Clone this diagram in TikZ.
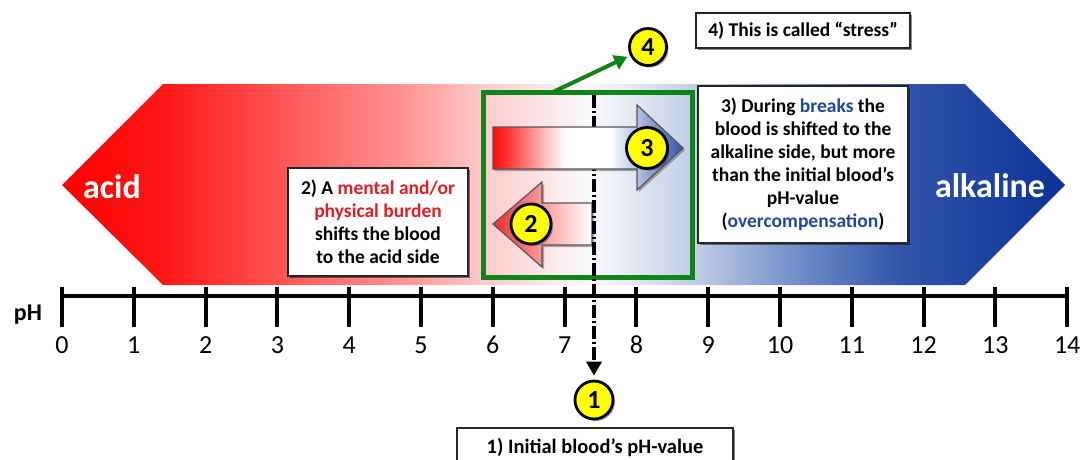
\documentclass[tikz,border=0pt]{standalone}
\usepackage{fontspec}
\setmainfont{Carlito}
\usetikzlibrary{arrows.meta,shadows,calc}

\definecolor{bR0}{RGB}{255,0,0}
\definecolor{bR1}{RGB}{255,22,22}
\definecolor{bR2}{RGB}{255,95,95}
\definecolor{bR3}{RGB}{255,145,145}
\definecolor{bR4}{RGB}{253,200,200}
\definecolor{bW}{RGB}{250,250,252}
\definecolor{bB1}{RGB}{190,202,228}
\definecolor{bB2}{RGB}{110,140,200}
\definecolor{bB3}{RGB}{50,85,170}
\definecolor{bB4}{RGB}{12,50,150}
\definecolor{aR}{RGB}{255,10,10}
\definecolor{aR1}{RGB}{255,60,60}
\definecolor{aR2}{RGB}{255,190,190}
\definecolor{aB1}{RGB}{170,185,222}
\definecolor{aB2}{RGB}{45,85,175}
\definecolor{cR}{RGB}{238,45,45}
\definecolor{cR1}{RGB}{250,150,150}
\definecolor{txtred}{RGB}{228,28,36}
\definecolor{txtblue}{RGB}{31,73,155}
\definecolor{grn}{RGB}{16,132,24}
\definecolor{circyel}{RGB}{255,255,0}

\pgfdeclarehorizontalshading{bandshade}{100bp}{color(0bp)=(bR0); color(25bp)=(bR0); color(29.9bp)=(bR1); color(36.9bp)=(bR2); color(41.85bp)=(bR3); color(45.84bp)=(bR4); color(51.3bp)=(bW); color(56.8bp)=(bB1); color(61.8bp)=(bB2); color(66.8bp)=(bB3); color(75bp)=(bB4); color(100bp)=(bB4)}
\pgfdeclarehorizontalshading{arrowthree}{100bp}{color(0bp)=(aR); color(25bp)=(aR); color(29.5bp)=(aR1); color(38.7bp)=(aR2); color(44bp)=(white); color(55.8bp)=(white); color(63.7bp)=(aB1); color(75bp)=(aB2); color(100bp)=(aB2)}
\pgfdeclarehorizontalshading{arrowtwo}{100bp}{color(0bp)=(cR); color(25bp)=(cR); color(48.7bp)=(cR1); color(75bp)=(white); color(100bp)=(white)}

\tikzset{
  txtbox/.style={draw=black!85, line width=1.3pt, fill=white, align=center,
    font=\fontsize{19.5}{23}\selectfont\bfseries, inner sep=0pt,
    drop shadow={shadow xshift=2pt, shadow yshift=-2pt, opacity=0.45, fill=black}},
  numcirc/.style={circle, draw=black, line width=2.8pt, fill=circyel, inner sep=0pt,
    font=\fontsize{26}{26}\selectfont\bfseries,
    drop shadow={shadow xshift=2pt, shadow yshift=-2pt, opacity=0.35, fill=black}},
  sidelabel/.style={font=\fontsize{34}{34}\selectfont\bfseries, text=white, inner sep=0pt},
  ticklabel/.style={font=\fontsize{26}{26}\selectfont, inner sep=0pt},
  blockarrow/.style={draw={rgb,255:red,85;green,85;blue,95}, line width=1.2pt},
}

\begin{document}
\begin{tikzpicture}[x=1pt,y=-1pt]
\useasboundingbox (0,0) rectangle (1082,459);

% band
\shade[shading=bandshade] (62,185) -- (163,84) -- (965,84) -- (1065,185) -- (965,285) -- (163,285) -- cycle;
\node[sidelabel] (acid) at (112,186.5) {acid};
\node[sidelabel] (alk) at (990,185.5) {alkaline};

% axis
\draw[line width=4pt] (62,296) -- (1067,296);
\foreach \i in {0,...,14} {
  \draw[line width=4pt] ({62+71.8*\i},287) -- ({62+71.8*\i},327);
  \node[ticklabel] (l\i) at ({62+71.8*\i},345) {\i};
}
\node[font=\fontsize{24}{24}\selectfont\bfseries, inner sep=0pt] (ph) at (28,315) {pH};

% green box
\node[draw=grn, line width=5pt, minimum width=209pt, minimum height=185pt, inner sep=0pt] (gbox) at (587.5,184.5) {};

% arrow 2
\shade[shading=arrowtwo, drop shadow={shadow xshift=2pt, shadow yshift=-2pt, opacity=0.3, fill=black}] (592,203) -- (542,203) -- (542,182) -- (493,224) -- (542,267) -- (542,245) -- (592,245) -- cycle;
\draw[blockarrow] (592,203) -- (542,203) -- (542,182) -- (493,224) -- (542,267) -- (542,245) -- (592,245) -- cycle;

% dashed line to 1
\coordinate (dtop) at (594,95);
\node[numcirc, minimum size=38pt] (c1) at (594,400) {1};
\draw[line width=4pt, dash pattern=on 13pt off 3pt on 2pt off 3pt, -{Triangle[length=14pt,width=15pt]}, shorten >=4pt] (dtop) -- (c1);

% arrow 3
\shade[shading=arrowthree, drop shadow={shadow xshift=2pt, shadow yshift=-2pt, opacity=0.3, fill=black}] (493,127) -- (637,127) -- (637,105) -- (683,148) -- (637,190) -- (637,169) -- (493,169) -- cycle;
\draw[blockarrow] (493,127) -- (637,127) -- (637,105) -- (683,148) -- (637,190) -- (637,169) -- (493,169) -- cycle;

% circles
\node[numcirc, minimum size=40pt] (c2) at (531,224) {2};
\node[numcirc, minimum size=41pt] (c3) at (647,148) {3};
\node[numcirc, minimum size=37pt] (c4) at (648,47) {4};

% green arrow
\coordinate (g4) at (553,92);
\draw[grn, line width=4pt, -{Triangle[length=13pt,width=15pt]}, shorten >=3pt] (g4) -- (c4);

% text boxes
\node[txtbox, minimum width=180pt, minimum height=108pt] (b2) at (378,222)
  {2) A \textcolor{txtred}{mental and/or}\\\textcolor{txtred}{physical burden}\\shifts the blood\\to the acid side};
\node[txtbox, minimum width=210pt, minimum height=157pt] (b3) at (803,164.5)
  {3) During \textcolor{txtblue}{breaks} the\\blood is shifted to the\\alkaline side, but more\\than the initial blood’s\\pH-value\\(\textcolor{txtblue}{overcompensation})};
\node[txtbox, minimum width=214pt, minimum height=35pt] (b4) at (803,30.5) {4) This is called “stress”};
\node[txtbox, minimum width=276pt, minimum height=38pt, font=\fontsize{20.5}{24}\selectfont\bfseries] (b1) at (595,447) {1) Initial blood’s pH-value};
\end{tikzpicture}
\end{document}
